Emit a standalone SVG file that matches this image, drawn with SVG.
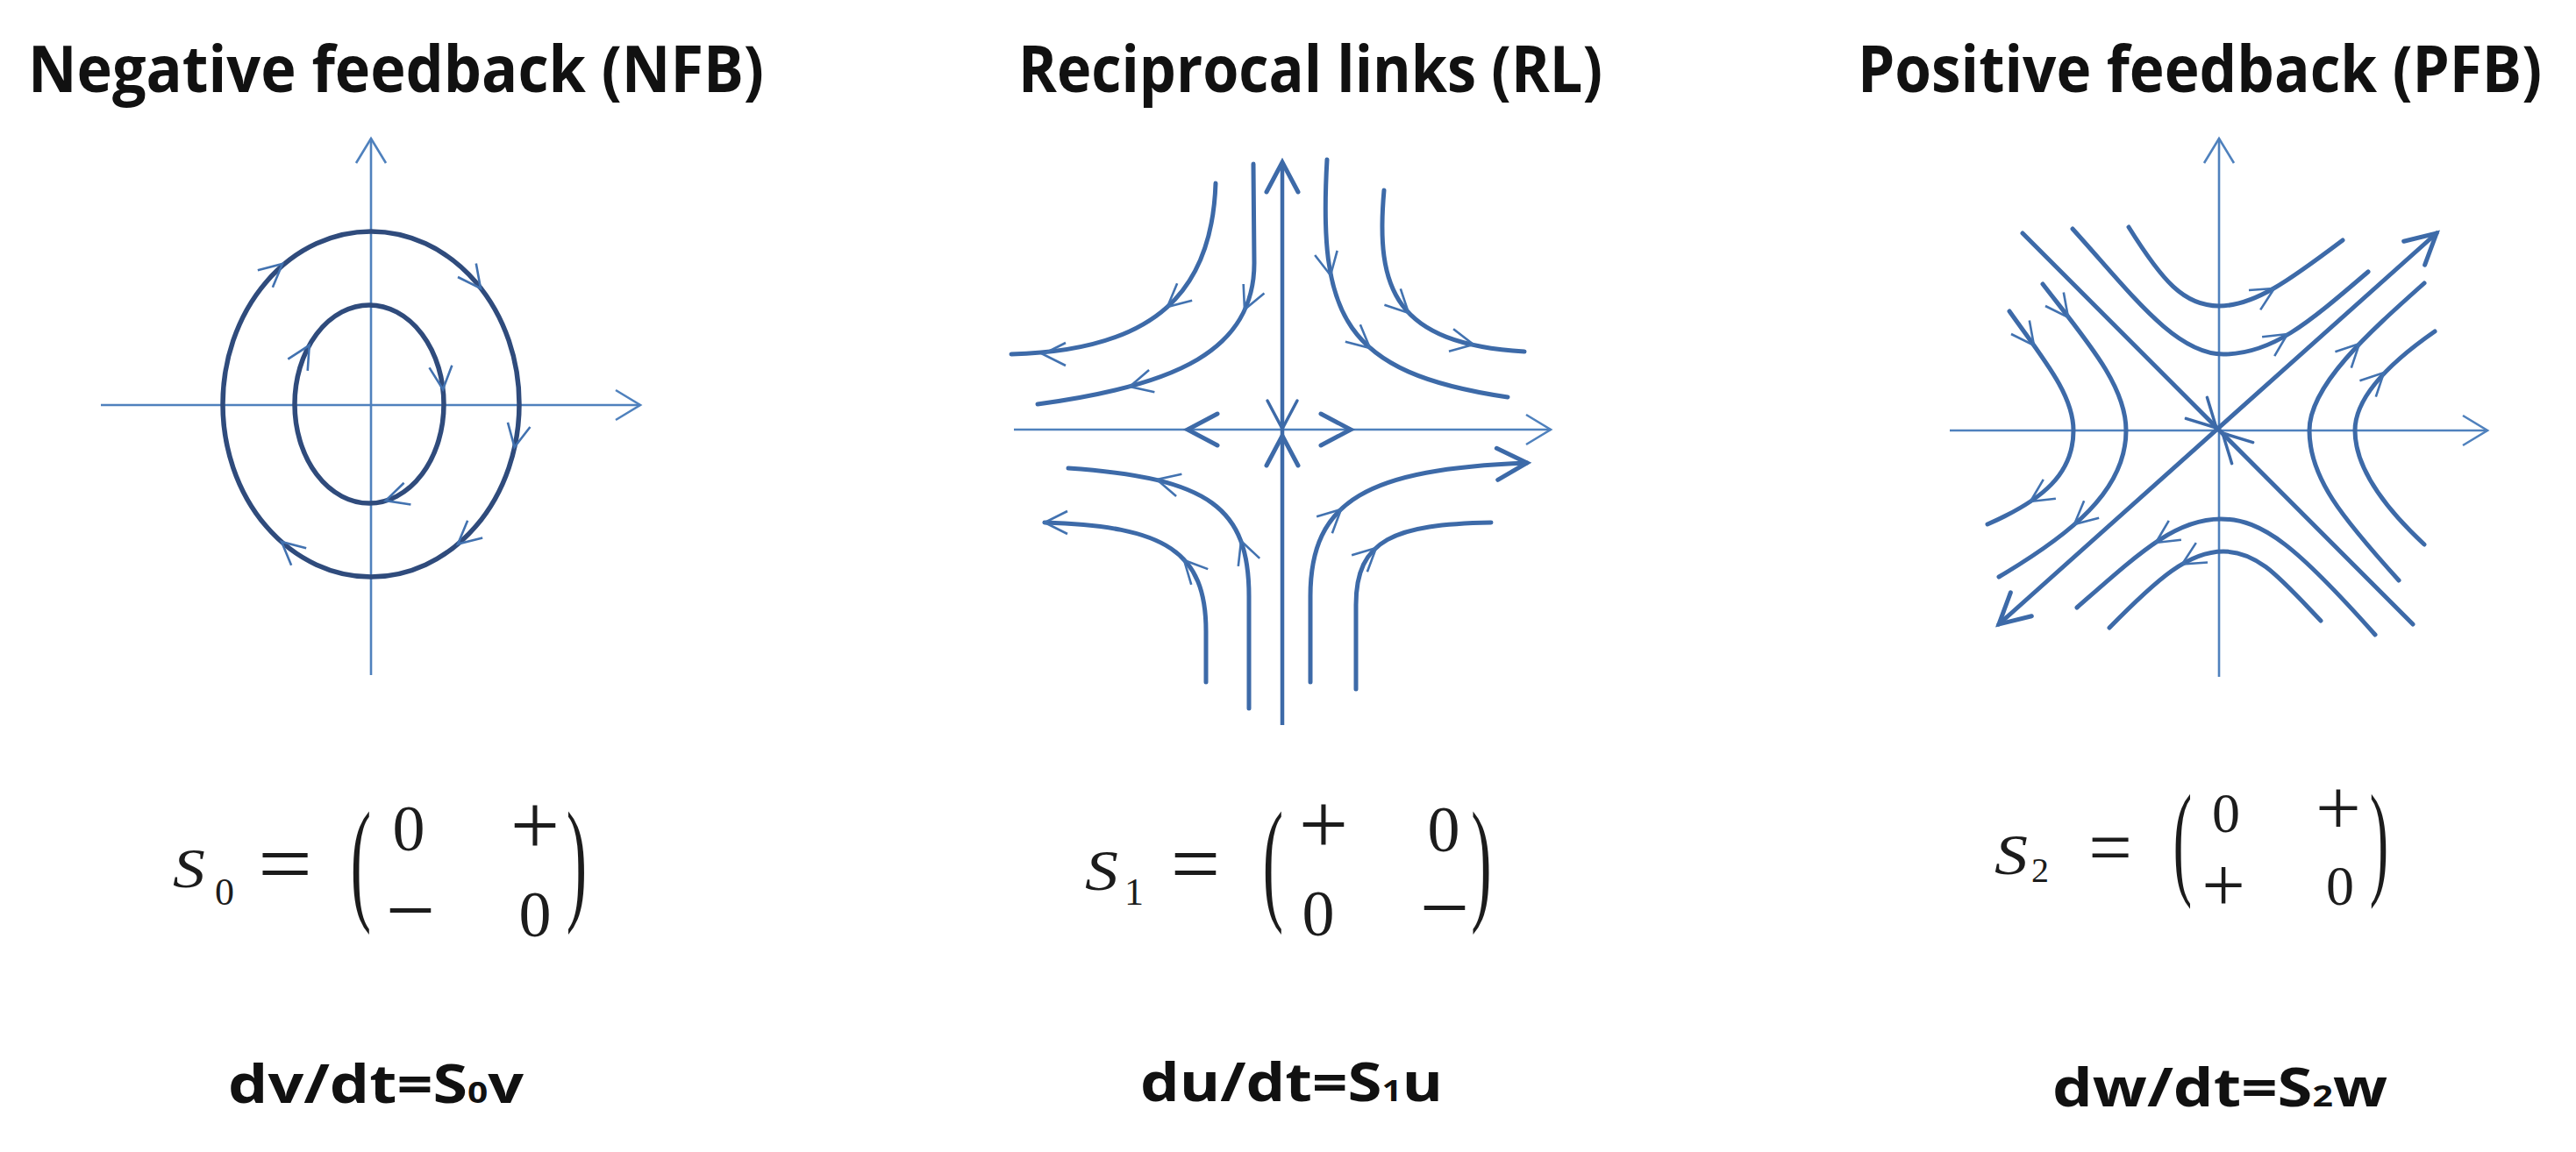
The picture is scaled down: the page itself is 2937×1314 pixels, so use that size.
<svg xmlns="http://www.w3.org/2000/svg" width="2937" height="1314" viewBox="0 0 2937 1314">
<style>
.ax{stroke:#4f81bd;stroke-width:2.6;fill:none}
.axb{stroke:#3d6aa8;stroke-width:4.5;fill:none}
.cv{stroke:#3d6aa8;stroke-width:5;fill:none;stroke-linecap:round}
.el{stroke:#2f4b7c;stroke-width:5.5;fill:none}
.tk{stroke:none;fill:none;marker-end:url(#chev)}
.tb{stroke:none;fill:none;marker-end:url(#bigArr)}
.tm{stroke:none;fill:none;marker-end:url(#midArr)}
.title{font-family:"Open Sans","Noto Sans","Liberation Sans",sans-serif;font-weight:700;font-size:68px;fill:#111}
.eq{font-family:"Open Sans","Noto Sans","Liberation Sans",sans-serif;font-weight:700;font-size:60px;fill:#111}
.m{font-family:"Liberation Serif","DejaVu Serif",serif;fill:#1c1c1c}
.mc{font-family:"Liberation Serif","DejaVu Serif",serif;fill:#1c1c1c;text-anchor:middle}
</style>
<defs>
<marker id="chev" viewBox="0 0 26 26" refX="26" refY="13" markerWidth="26" markerHeight="26" markerUnits="userSpaceOnUse" orient="auto" overflow="visible"><path d="M0,0 L26,13 L0,26" fill="none" stroke="#4272b0" stroke-width="2.6"/></marker>
<marker id="axArr" viewBox="0 0 28 34" refX="28" refY="17" markerWidth="28" markerHeight="34" markerUnits="userSpaceOnUse" orient="auto" overflow="visible"><path d="M0,0 L28,17 L0,34" fill="none" stroke="#4f81bd" stroke-width="2.6"/></marker>
<marker id="bigArr" viewBox="0 0 34 36" refX="34" refY="18" markerWidth="34" markerHeight="36" markerUnits="userSpaceOnUse" orient="auto-start-reverse" overflow="visible"><path d="M0,0 L34,18 L0,36" fill="none" stroke="#3d6aa8" stroke-width="5" stroke-linecap="round"/></marker>
<marker id="midArr" viewBox="0 0 32 34" refX="32" refY="17" markerWidth="32" markerHeight="34" markerUnits="userSpaceOnUse" orient="auto" overflow="visible"><path d="M0,0 L32,17 L0,34" fill="none" stroke="#3d6aa8" stroke-width="3.5" stroke-linecap="round"/></marker>
</defs>
<rect width="2937" height="1314" fill="#ffffff"/>

<g id="nfb">
<text class="title" transform="translate(32,105) scale(1,1.07)" textLength="839" lengthAdjust="spacingAndGlyphs">Negative feedback (NFB)</text>
<g id="nfb-plot">
<path class="ax" d="M423,770 L423,158" marker-end="url(#axArr)"/>
<path class="ax" d="M115,462 L730,462" marker-end="url(#axArr)"/>
<ellipse class="el" cx="423" cy="461" rx="169" ry="197"/>
<ellipse class="el" cx="421" cy="461" rx="85" ry="113"/>
</g>
<g id="nfb-matrix">
<text class="m" transform="translate(197,1012) scale(1.15,1)" font-size="64" font-style="italic">S</text>
<text class="m" x="245" y="1032" font-size="44">0</text>
<text class="mc" transform="translate(325,1019) scale(1.1,1)" font-size="100">=</text>
<text class="mc" transform="translate(411.5,993.5) scale(1,2.2)" y="18" font-size="70">(</text>
<text class="mc" transform="translate(657.5,993.5) scale(1,2.2)" y="18" font-size="70">)</text>
<text class="mc" x="466" y="970" font-size="74">0</text>
<text class="mc" x="610" y="975" font-size="100">+</text>
<text class="mc" x="468" y="1072" font-size="100">−</text>
<text class="mc" x="610" y="1068" font-size="74">0</text>
</g>
<text class="eq" x="260" y="1258" textLength="337" lengthAdjust="spacingAndGlyphs">dv/dt=S<tspan font-size="34">0</tspan>v</text>
</g>

<g id="rl">
<text class="title" transform="translate(1161,105) scale(1,1.07)" textLength="666" lengthAdjust="spacingAndGlyphs">Reciprocal links (RL)</text>
<g id="rl-plot">
<path class="ax" d="M1156,490 L1768,490" marker-end="url(#axArr)"/>
<path class="axb" d="M1462,827 L1462,185" marker-end="url(#bigArr)"/>
</g>
<g id="rl-matrix">
<text class="m" transform="translate(1237,1015) scale(1.15,1)" font-size="66" font-style="italic">S</text>
<text class="m" x="1282" y="1032" font-size="44">1</text>
<text class="mc" transform="translate(1363,1019) scale(1,1)" font-size="100">=</text>
<text class="mc" transform="translate(1451.5,993.5) scale(1,2.2)" y="18" font-size="70">(</text>
<text class="mc" transform="translate(1689,993.5) scale(1,2.2)" y="18" font-size="70">)</text>
<text class="mc" x="1509" y="974" font-size="100">+</text>
<text class="mc" x="1646" y="971" font-size="74">0</text>
<text class="mc" x="1503" y="1067" font-size="74">0</text>
<text class="mc" x="1647" y="1069" font-size="100">−</text>
</g>
<text class="eq" x="1300" y="1256" textLength="345" lengthAdjust="spacingAndGlyphs">du/dt=S<tspan font-size="34">1</tspan>u</text>
</g>

<g id="pfb">
<text class="title" transform="translate(2118,105) scale(1,1.07)" textLength="780" lengthAdjust="spacingAndGlyphs">Positive feedback (PFB)</text>
<g id="pfb-plot">
<path class="ax" d="M2530,772 L2530,158" marker-end="url(#axArr)"/>
<path class="ax" d="M2223,491 L2836,491" marker-end="url(#axArr)"/>
</g>
<g id="pfb-matrix">
<text class="m" transform="translate(2274,997) scale(1.15,1)" font-size="66" font-style="italic">S</text>
<text class="m" x="2316" y="1006" font-size="40">2</text>
<text class="mc" x="2406" y="996" font-size="88">=</text>
<text class="mc" transform="translate(2488.5,969) scale(1,2.26)" y="16.5" font-size="64">(</text>
<text class="mc" transform="translate(2712.5,969) scale(1,2.26)" y="16.5" font-size="64">)</text>
<text class="mc" x="2538" y="949" font-size="64">0</text>
<text class="mc" x="2666" y="952" font-size="92">+</text>
<text class="mc" x="2535" y="1039" font-size="88">+</text>
<text class="mc" x="2668" y="1032" font-size="64">0</text>
</g>
<text class="eq" x="2340" y="1262" textLength="382" lengthAdjust="spacingAndGlyphs">dw/dt=S<tspan font-size="34">2</tspan>w</text>
</g>

<g id="connectors">
<path class="tk" d="M320.5,302.3 L322,301"/>
<path class="tk" d="M546.8,327.4 L548,329"/>
<path class="tk" d="M587,508 L586.6,510"/>
<path class="tk" d="M523.5,619.3 L522,620.6"/>
<path class="tk" d="M322.5,619.3 L321,618"/>
<path class="tk" d="M351.7,395.5 L352.7,393.8"/>
<path class="tk" d="M504.8,442 L505,444"/>
<path class="tk" d="M441.6,570.4 L439.7,571"/>

<path class="cv" d="M1386,209 C1382,330 1320,400 1153,404"/>
<path class="cv" d="M1429,187 L1430,300 C1430,400 1340,440 1183,461"/>
<path class="cv" d="M1513,182 C1503,360 1530,425 1719,453"/>
<path class="cv" d="M1578,217 C1568,330 1590,392 1738,401"/>
<path class="cv" d="M1218,534 C1380,545 1424,580 1424,680 L1424,808"/>
<path class="cv" d="M1191,596 C1330,600 1375,630 1375,720 L1375,778"/>
<path class="cv" d="M1494,778 L1494,680 C1494,570 1560,535 1741,528" marker-end="url(#bigArr)"/>
<path class="cv" d="M1546,786 L1546,690 C1546,615 1590,598 1700,596"/>
<path class="tk" d="M1332.5,348.7 L1331,350"/>
<path class="tk" d="M1191,404 L1189,404"/>
<path class="tk" d="M1419.8,351.2 L1419,353"/>
<path class="tk" d="M1290,440.5 L1288,441"/>
<path class="tk" d="M1516.6,312 L1517,314"/>
<path class="tk" d="M1560.5,395.7 L1562,397"/>
<path class="tk" d="M1604.6,355.6 L1606,357"/>
<path class="tk" d="M1678,392.6 L1680,393"/>
<path class="tk" d="M1321,547.5 L1319,547"/>
<path class="tk" d="M1415.7,618.9 L1415,617"/>
<path class="tk" d="M1351.4,640.5 L1350,639"/>
<path class="tk" d="M1193,596 L1191,596"/>
<path class="tk" d="M1527.5,582.4 L1529,581"/>
<path class="tk" d="M1567.5,626.4 L1569,625"/>
<path class="tb" d="M1356,490 L1354,490"/>
<path class="tb" d="M1538,490 L1540,490"/>
<path class="tm" d="M1462,487 L1462,489"/>
<path class="tb" d="M1462,499 L1462,497"/>

<path class="cv" d="M2306,266 L2751,712"/>
<path class="cv" d="M2279,712 L2778,266" marker-start="url(#bigArr)" marker-end="url(#bigArr)"/>
<path class="cv" d="M2427,259 C2465,320 2490,349 2530,349 C2570,349 2610,320 2671,274"/>
<path class="cv" d="M2363,261 C2430,335 2480,404 2535,404 C2590,404 2630,370 2700,310"/>
<path class="cv" d="M2368,693 C2440,630 2480,592 2532,592 C2580,592 2620,625 2708,724"/>
<path class="cv" d="M2405,716 C2460,660 2495,629 2535,629 C2575,629 2600,660 2646,708"/>
<path class="cv" d="M2291,355 C2330,410 2364,450 2364,491 C2364,540 2330,570 2266,598"/>
<path class="cv" d="M2329,324 C2380,390 2424,440 2424,491 C2424,560 2360,610 2279,658"/>
<path class="cv" d="M2764,323 C2700,380 2633,440 2633,491 C2633,545 2670,590 2735,662"/>
<path class="cv" d="M2776,378 C2730,410 2685,450 2685,491 C2685,535 2720,580 2764,621"/>
<path class="tk" d="M2591.3,330 L2593,329"/>
<path class="tk" d="M2606.3,382.1 L2608,381"/>
<path class="tk" d="M2459.7,617.9 L2458,619"/>
<path class="tk" d="M2489.7,642.5 L2488,643.5"/>
<path class="tk" d="M2317.8,392.4 L2319,394"/>
<path class="tk" d="M2316.7,570.9 L2315,572"/>
<path class="tk" d="M2356.8,360.4 L2358,362"/>
<path class="tk" d="M2366.5,596.7 L2365,598"/>
<path class="tk" d="M2688.6,393.4 L2690,392"/>
<path class="tk" d="M2716.6,426.4 L2718,425"/>
<path class="tm" d="M2525.6,486.6 L2527,488"/>
<path class="tm" d="M2535.4,495.4 L2534,494"/>
</g>
</svg>
